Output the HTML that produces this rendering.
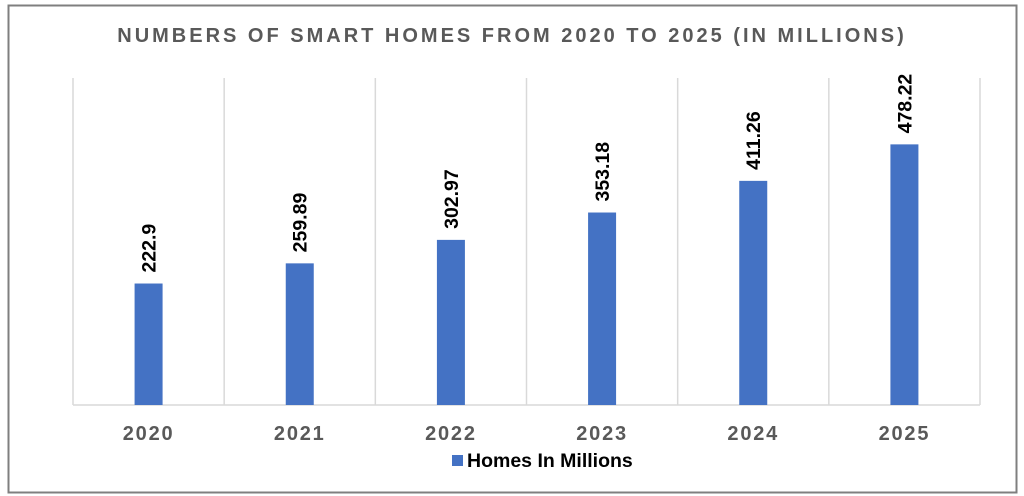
<!DOCTYPE html>
<html><head><meta charset="utf-8"><style>
body{margin:0;width:1024px;height:496px;background:#fff;overflow:hidden}
svg{display:block;font-family:"Liberation Sans",Arial,sans-serif}
</style></head><body>
<svg id="chart" width="1024" height="496">
<rect x="8.5" y="5.5" width="1008" height="487" fill="#fff" stroke="#7f7f7f" stroke-width="2"/>
<text x="512" y="42" text-anchor="middle" font-size="20" font-weight="bold" fill="#595959" letter-spacing="3">NUMBERS OF SMART HOMES FROM 2020 TO 2025 (IN MILLIONS)</text>
<g id="grid"></g><g id="bars"></g><g id="labels"></g><g id="xticks"></g>
<rect x="452" y="455" width="11" height="11" fill="#4472c4"/>
<text x="467" y="467" font-size="19.5" font-weight="bold" fill="#000">Homes In Millions</text>
</svg>
<script>
const categories=["2020","2021","2022","2023","2024","2025"];
const values=[222.9,259.89,302.97,353.18,411.26,478.22];
const valueLabels=["222.9","259.89","302.97","353.18","411.26","478.22"];
const yMax=600;
const L=73,R=980,B=405,T=78;
const ns="http://www.w3.org/2000/svg";
const bw=(R-L)/categories.length;
const x=i=>L+bw*i;
const y=v=>B-(v/yMax)*(B-T);
function mk(tag,attrs,parent){const e=document.createElementNS(ns,tag);for(const k in attrs)e.setAttribute(k,attrs[k]);document.getElementById(parent).appendChild(e);return e;}
for(let i=0;i<=categories.length;i++){
  const g=mk("line",{x1:x(i),x2:x(i),y1:T,y2:B,stroke:"#d9d9d9","stroke-width":1.5},"grid");
  
  
}
const ax=mk("line",{x1:L,x2:R,y1:B,y2:B,stroke:"#d9d9d9","stroke-width":1.5},"grid");


categories.forEach((c,i)=>{
  const cx=x(i)+bw/2;
  const r=mk("rect",{x:cx-14,y:y(values[i]),width:28,height:B-y(values[i]),fill:"#4472c4"},"bars");
  
  
  const lx=cx+7,ly=y(values[i])-11;
  const t=mk("text",{x:lx,y:ly,transform:`rotate(-90 ${lx} ${ly})`,"font-size":19.5,"font-weight":"bold",fill:"#000"},"labels");
  t.textContent=valueLabels[i];
  
  
  const k=mk("text",{x:cx,y:440,"text-anchor":"middle","font-size":20,"font-weight":"bold",fill:"#595959","letter-spacing":"1.8"},"xticks");
  k.textContent=c;
  
  
});
</script>
</body></html>
